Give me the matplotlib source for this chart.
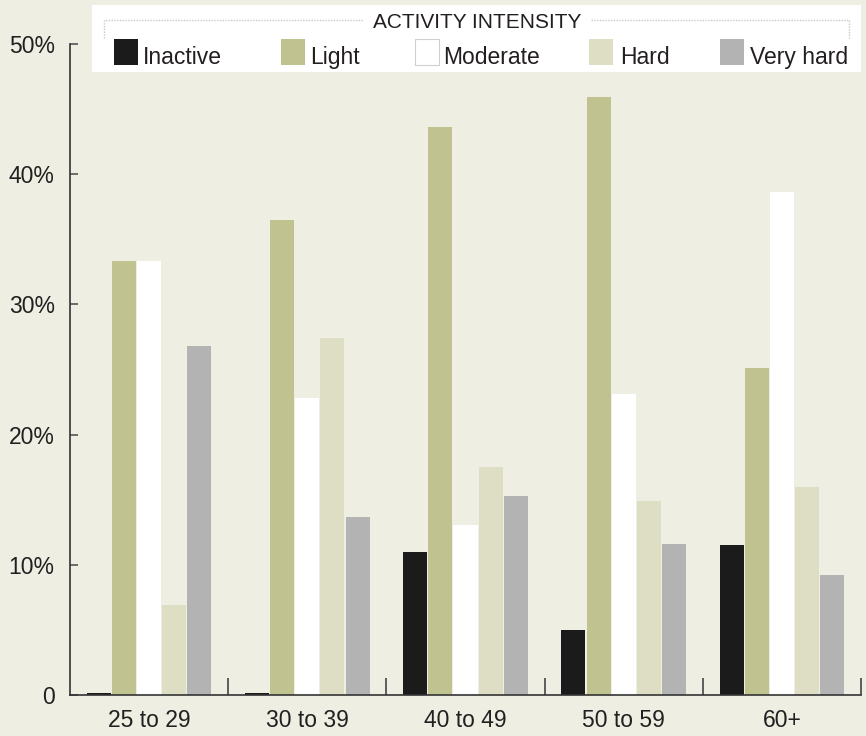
import matplotlib
matplotlib.use('Agg')
import matplotlib.pyplot as plt
import numpy as np
from matplotlib.patches import Rectangle
from matplotlib.lines import Line2D

plt.rcParams['font.family'] = ['Liberation Sans', 'DejaVu Sans']

# data (percent)
groups = ['25 to 29', '30 to 39', '40 to 49', '50 to 59', '60+']
series = ['Inactive', 'Light', 'Moderate', 'Hard', 'Very hard']
inactive = [0.15, 0.15, 11.0, 5.0, 11.5]
light = [33.3, 36.5, 43.6, 45.9, 25.1]
moderate = [33.3, 22.8, 13.1, 23.1, 38.6]
hard = [6.9, 27.4, 17.5, 14.9, 16.0]
very_hard = [26.8, 13.7, 15.3, 11.6, 9.2]
yticks = [0, 10, 20, 30, 40, 50]
ytick_labels = ['0', '10%', '20%', '30%', '40%', '50%']

colors = ['#1b1b1b', '#c0c390', '#ffffff', '#dddec3', '#b3b3b3']
bg = '#eeeee2'
txt = '#231f20'

fig = plt.figure(figsize=(8.66, 7.36), dpi=100, facecolor=bg)
ax = fig.add_axes([70/866, 1 - 695.3/736, 791/866, 651.5/736])
ax.set_facecolor(bg)

x = np.arange(len(groups))
step = 0.159
width = 0.152
for i, vals in enumerate([inactive, light, moderate, hard, very_hard]):
    ax.bar(x + (i - 2) * step, vals, width=width, color=colors[i], linewidth=0)

ax.set_xlim(-0.5, len(groups) - 0.5)
ax.set_ylim(0, 50)

ax.set_yticks(yticks)
ax.set_yticklabels(ytick_labels)
ax.tick_params(axis='y', direction='in', length=6, width=1.2, color='#555555',
               labelsize=16.5, labelcolor=txt, pad=11)

ax.set_xticks(x)
ax.set_xticklabels(groups)
ax.tick_params(axis='x', which='major', length=0, labelsize=16.5, labelcolor=txt, pad=10)
ax.set_xticks(np.arange(len(groups)) + 0.5, minor=True)
ax.tick_params(axis='x', which='minor', direction='in', length=12, width=1.2, color='#444444')

for s in ['top', 'right']:
    ax.spines[s].set_visible(False)
ax.spines['left'].set_color('#333333')
ax.spines['bottom'].set_color('#333333')
ax.spines['left'].set_linewidth(1.2)
ax.spines['bottom'].set_linewidth(1.2)

# legend box, placed in pixel coords
W, H = 866, 736
def fx(px):
    return px / W
def fy(py):
    return 1 - py / H

fig.patches.append(Rectangle((fx(92), fy(72)), fx(861) - fx(92), fy(4.5) - fy(72),
                             transform=fig.transFigure, facecolor='white',
                             edgecolor='none', zorder=5))
dot = dict(color='#c8c8c8', linestyle=(0, (1, 1)), linewidth=1, transform=fig.transFigure, zorder=6)
fig.lines.append(Line2D([fx(104), fx(104), fx(363)], [fy(38), fy(20), fy(20)], **dot))
fig.lines.append(Line2D([fx(591), fx(849), fx(849)], [fy(20), fy(20), fy(38)], **dot))
fig.text(fx(477), fy(28), 'ACTIVITY INTENSITY', ha='center', va='baseline',
         fontsize=15, color=txt, zorder=7)

swatch_x = [114, 281, 415, 589, 720]
text_x = [143, 310, 443, 620, 750]
for i, name in enumerate(series):
    fig.patches.append(Rectangle((fx(swatch_x[i]), fy(65)), fx(24), fy(39) - fy(65),
                                 transform=fig.transFigure, facecolor=colors[i],
                                 edgecolor='#d0d0d0' if i == 2 else 'none',
                                 linewidth=0.8, zorder=6))
    fig.text(fx(text_x[i]), fy(64), name, ha='left', va='baseline',
             fontsize=16.5, color=txt, zorder=7)

fig.savefig('out.png', dpi=100, facecolor=bg)
